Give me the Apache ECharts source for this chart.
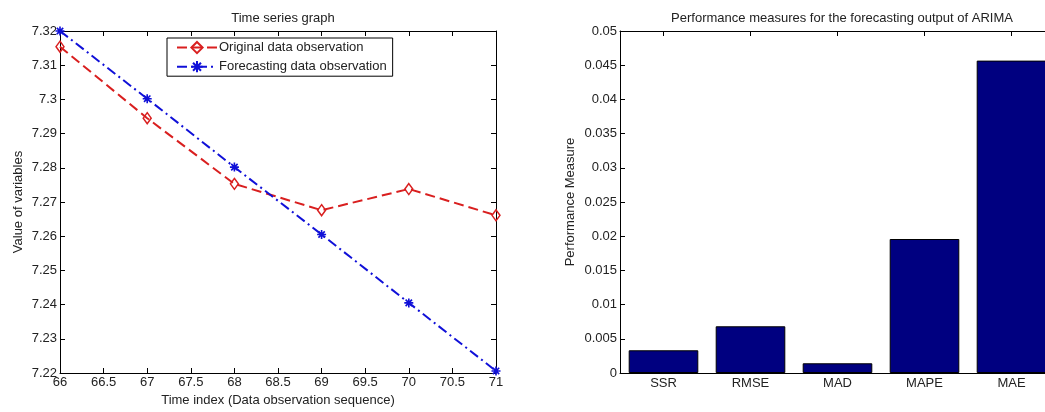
<!DOCTYPE html>
<html>
<head>
<meta charset="utf-8">
<script src="https://cdn.jsdelivr.net/npm/echarts@6/dist/echarts.min.js"></script>
<style>
html,body{margin:0;padding:0;background:#fff;overflow:hidden;}
#chart{width:1070px;height:412px;}
</style>
</head>
<body>
<div id="chart"></div>
<script>
// ---- Data ----
const timeIndex = [66, 67, 68, 69, 70, 71];
const originalObs = [7.3154, 7.2945, 7.2753, 7.2676, 7.2738, 7.2661];
const forecastObs = [7.3200, 7.3002, 7.2802, 7.2605, 7.2405, 7.2206];
const measureNames = ['SSR', 'RMSE', 'MAD', 'MAPE', 'MAE'];
const measureValues = [0.00332, 0.00683, 0.00142, 0.01959, 0.04567];

const FONT = '"Liberation Sans", Arial, sans-serif';
const TXT = '#222';
const RED = '#d91f1f';
const BLUE = '#1010d8';

const asterisk = 'path://M-5,-0.9L5,-0.9L5,0.9L-5,0.9Z M-0.9,-5L0.9,-5L0.9,5L-0.9,5Z M-4.2,-2.9L-2.9,-4.2L4.2,2.9L2.9,4.2Z M2.9,-4.2L4.2,-2.9L-2.9,4.2L-4.2,2.9Z';

const lbl = {fontFamily: FONT, fontSize: 13, color: TXT};
const nameStyle = {fontFamily: FONT, fontSize: 13, color: TXT};
const axLine = {show: true, onZero: false, lineStyle: {color: '#000', width: 1}};
const tickIn = {show: true, inside: true, length: 5, lineStyle: {color: '#000'}};

const chart = echarts.init(document.getElementById('chart'), null, {renderer: 'canvas'});
chart.setOption({
  animation: false,
  backgroundColor: '#fff',
  title: [
    {text: 'Time series graph', left: 278, top: 7, textAlign: 'center',
     textStyle: {fontFamily: FONT, fontSize: 13, fontWeight: 'normal', color: TXT}},
    {text: 'Performance measures for the forecasting output of ARIMA', left: 837, top: 7, textAlign: 'center',
     textStyle: {fontFamily: FONT, fontSize: 13, fontWeight: 'normal', color: TXT}}
  ],
  legend: {
    left: 167, top: 38, orient: 'vertical',
    data: ['Original data observation', 'Forecasting data observation'],
    itemWidth: 40, itemHeight: 14, itemGap: 6,
    padding: [3, 6, 3, 9],
    borderColor: '#000', borderWidth: 1, backgroundColor: '#fff',
    textStyle: {fontFamily: FONT, fontSize: 13, color: TXT, padding: [0, 0, 0, -3]},
    selectedMode: false
  },
  grid: [
    {left: 60, top: 31, width: 436, height: 342, containLabel: false},
    {left: 620, top: 31, width: 435, height: 342, containLabel: false}
  ],
  xAxis: [
    {type: 'value', gridIndex: 0, min: 66, max: 71, interval: 0.5, position: 'bottom',
     name: 'Time index (Data observation sequence)', nameLocation: 'middle', nameGap: 21,
     nameTextStyle: nameStyle,
     axisLine: axLine, axisTick: tickIn, splitLine: {show: false},
     axisLabel: Object.assign({margin: 3}, lbl)},
    {type: 'value', gridIndex: 0, min: 66, max: 71, interval: 0.5, position: 'top',
     axisLine: axLine, axisTick: tickIn, splitLine: {show: false}, axisLabel: {show: false}},
    {type: 'category', gridIndex: 1, data: measureNames, position: 'bottom',
     axisLine: axLine, axisTick: Object.assign({alignWithLabel: true}, tickIn),
     axisLabel: Object.assign({margin: 4}, lbl)},
    {type: 'category', gridIndex: 1, data: measureNames, position: 'top',
     axisLine: axLine, axisTick: Object.assign({alignWithLabel: true}, tickIn),
     axisLabel: {show: false}}
  ],
  yAxis: [
    {type: 'value', gridIndex: 0, min: 7.22, max: 7.32, interval: 0.01, position: 'left',
     name: 'Value of variables', nameLocation: 'middle', nameGap: 35,
     nameTextStyle: nameStyle,
     axisLine: axLine, axisTick: tickIn, splitLine: {show: false},
     axisLabel: Object.assign({margin: 3}, lbl)},
    {type: 'value', gridIndex: 0, min: 7.22, max: 7.32, interval: 0.01, position: 'right',
     axisLine: axLine, axisTick: tickIn, splitLine: {show: false}, axisLabel: {show: false}},
    {type: 'value', gridIndex: 1, min: 0, max: 0.05, interval: 0.005, position: 'left',
     name: 'Performance Measure', nameLocation: 'middle', nameGap: 43,
     nameTextStyle: nameStyle,
     axisLine: axLine, axisTick: tickIn, splitLine: {show: false},
     axisLabel: Object.assign({margin: 3}, lbl)},
    {type: 'value', gridIndex: 1, min: 0, max: 0.05, interval: 0.005, position: 'right',
     axisLine: axLine, axisTick: tickIn, splitLine: {show: false}, axisLabel: {show: false}}
  ],
  series: [
    {name: 'Original data observation', type: 'line', xAxisIndex: 0, yAxisIndex: 0,
     data: timeIndex.map((t, i) => [t, originalObs[i]]),
     symbol: 'diamond', symbolSize: [8, 11], showAllSymbol: true,
     lineStyle: {color: RED, width: 2, type: [10, 5]},
     itemStyle: {color: 'rgba(255,255,255,0)', borderColor: RED, borderWidth: 1.5},
     emphasis: {disabled: true}, z: 3},
    {name: 'Forecasting data observation', type: 'line', xAxisIndex: 0, yAxisIndex: 0,
     data: timeIndex.map((t, i) => [t, forecastObs[i]]),
     symbol: asterisk, symbolSize: 9, showAllSymbol: true,
     lineStyle: {color: BLUE, width: 2, type: [10, 4, 2, 4]},
     itemStyle: {color: BLUE, borderWidth: 0},
     emphasis: {disabled: true}, z: 4},
    {name: 'measures', type: 'bar', xAxisIndex: 2, yAxisIndex: 2,
     data: measureValues, barCategoryGap: '20%',
     itemStyle: {color: '#000080', borderColor: '#000', borderWidth: 1},
     emphasis: {disabled: true}}
  ]
});
</script>
</body>
</html>
